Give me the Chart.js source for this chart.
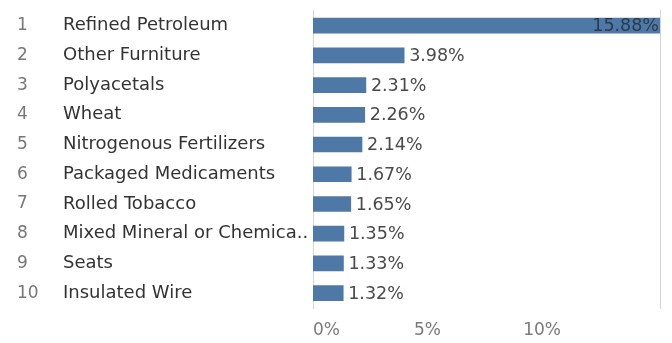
<!DOCTYPE html>
<html>
<head>
<meta charset="utf-8">
<script src="https://cdn.jsdelivr.net/npm/chart.js@4/dist/chart.umd.min.js"></script>
<style>
html,body{margin:0;padding:0;background:#fff;}
#wrap{width:672px;height:343px;position:relative;}
</style>
</head>
<body>
<div id="wrap"><canvas id="c" width="672" height="343"></canvas></div>
<script>
const ranks = ['1','2','3','4','5','6','7','8','9','10'];
const products = ['Refined Petroleum','Other Furniture','Polyacetals','Wheat','Nitrogenous Fertilizers','Packaged Medicaments','Rolled Tobacco','Mixed Mineral or Chemica..','Seats','Insulated Wire'];
const shares = [15.88, 3.98, 2.31, 2.26, 2.14, 1.67, 1.65, 1.35, 1.33, 1.32];
const xTicks = [0, 5, 10];

const FONT = '"DejaVu Sans", Verdana, sans-serif';

const valueLabels = {
  id: 'valueLabels',
  afterDatasetsDraw(chart) {
    const ctx = chart.ctx;
    const meta = chart.getDatasetMeta(0);
    const area = chart.chartArea;
    ctx.save();
    ctx.font = '17.5px ' + FONT;
    ctx.textBaseline = 'middle';
    meta.data.forEach((bar, i) => {
      const txt = shares[i].toFixed(2) + '%';
      const w = ctx.measureText(txt).width;
      const end = Math.min(bar.x, area.right);
      if (end + 4 + w > area.right) {
        ctx.textAlign = 'right';
        ctx.fillStyle = '#2b3a4e';
        ctx.fillText(txt, end - 1, bar.y + 1);
      } else {
        ctx.textAlign = 'left';
        ctx.fillStyle = '#4a4a4a';
        ctx.fillText(txt, end + 5, bar.y + 1);
      }
    });
    ctx.restore();
  }
};

new Chart(document.getElementById('c'), {
  type: 'bar',
  data: {
    labels: products,
    datasets: [{
      data: shares,
      backgroundColor: '#4e79a7',
      barThickness: 15,
      xAxisID: 'x',
      yAxisID: 'y'
    }]
  },
  options: {
    indexAxis: 'y',
    responsive: false,
    animation: false,
    layout: { padding: { left: 17, right: 11, top: 8, bottom: 0 } },
    plugins: { legend: { display: false }, tooltip: { enabled: false } },
    scales: {
      x: {
        type: 'linear',
        position: 'bottom',
        min: 0,
        max: 15.15,
        grid: { display: false, drawTicks: false },
        border: { display: false },
        afterBuildTicks(scale) {
          // labelled ticks plus an unlabelled one at the axis end (keeps the last label centred)
          scale.ticks = xTicks.map(v => ({ value: v })).concat([{ value: scale.max, blank: true }]);
        },
        ticks: {
          align: 'inner',
          padding: 12,
          color: '#7a7a7a',
          font: { family: FONT, size: 17 },
          callback: (v, i, t) => (t[i] && t[i].blank) ? '' : v + '%'
        },
        afterFit(scale) { scale.height = 35; }
      },
      y: {
        type: 'category',
        position: 'left',
        weight: 0,
        grid: { display: false, drawTicks: false },
        border: { display: true, color: '#d4d4d4', width: 1 },
        ticks: {
          crossAlign: 'far',
          padding: 0,
          color: '#333',
          font: { family: FONT, size: 18 }
        },
        afterFit(scale) { scale.width = 250; }
      },
      rank: {
        type: 'category',
        position: 'left',
        weight: 10,
        labels: ranks,
        grid: { display: false, drawTicks: false },
        border: { display: false },
        ticks: {
          crossAlign: 'far',
          padding: 0,
          color: '#777',
          font: { family: FONT, size: 17 }
        },
        afterFit(scale) { scale.width = 46; }
      },
      edge: {
        type: 'category',
        position: 'right',
        labels: ranks,
        grid: { display: false, drawTicks: false },
        border: { display: true, color: '#d4d4d4', width: 1 },
        ticks: { display: false },
        afterFit(scale) { scale.width = 0; }
      }
    }
  },
  plugins: [valueLabels]
});
</script>
</body>
</html>
